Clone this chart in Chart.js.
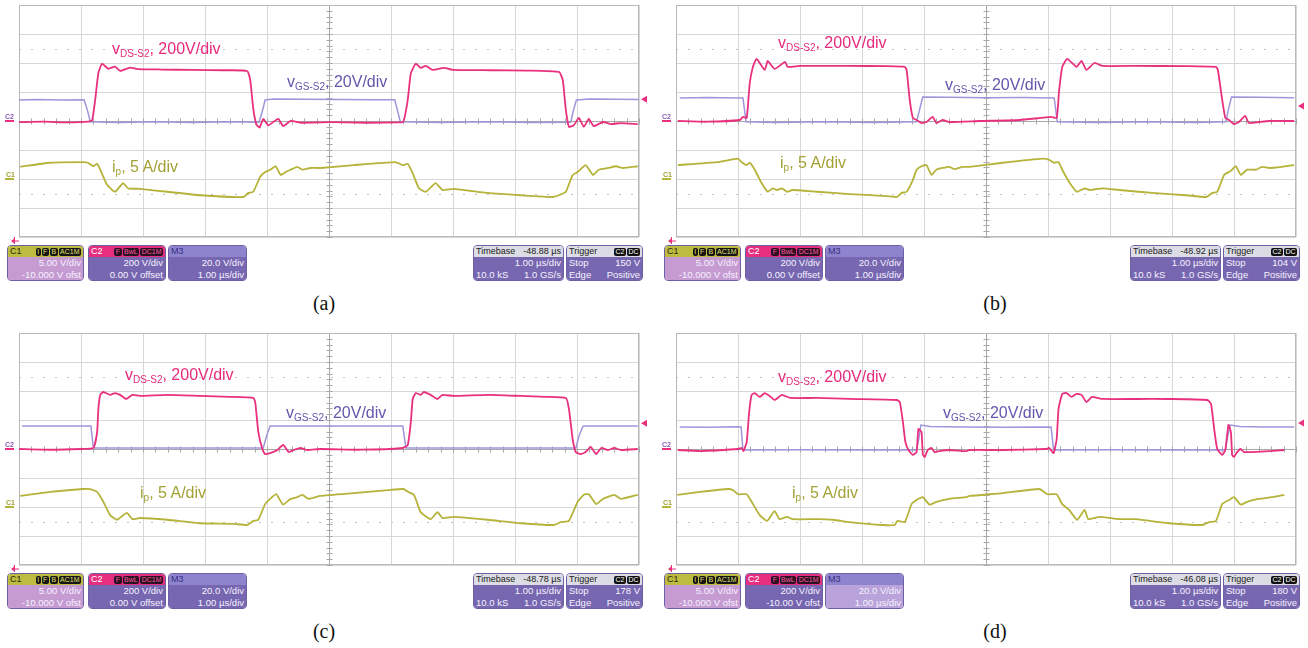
<!DOCTYPE html>
<html lang="en">
<head>
<meta charset="UTF-8">
<title>vDS-S2, vGS-S2 and ip switching waveforms</title>
<script src="https://cdn.jsdelivr.net/npm/chart.js"></script>
<style>
  body { margin: 0; background: #fff; font-family: "Liberation Sans", Arial, sans-serif; }
  #page { position: relative; width: 1308px; height: 648px; overflow: hidden; }
  .panel { position: absolute; width: 657px; height: 328px; }
  .panel canvas { position: absolute; left: 0; top: 0; }
  .lbl { position: absolute; font-size: 16px; line-height: 16px; white-space: nowrap; }
  .lbl .s { font-size: 10px; position: relative; top: 3px; }
  .mk { position: absolute; font-size: 7px; line-height: 7px; font-weight: bold; }
  .box { position: absolute; top: 245px; height: 36px; border-radius: 4px; overflow: hidden;
         font-size: 9.5px; color: #f6f2ff; border: 1px solid #6c61a6; box-sizing: border-box; white-space: nowrap; }
  .hdr { height: 11px; line-height: 11px; padding: 0 2px; display: flex; justify-content: space-between; align-items: center; font-size: 9px; }
  .row { height: 12px; line-height: 12px; padding: 0 2px; display: flex; justify-content: space-between; background: #7667b0; }
  .bd { display: inline-block; border-radius: 2px; padding: 0 1.5px; margin-left: 1px; line-height: 8px; font-size: 7px; vertical-align: middle; }
  .cap { position: absolute; font-family: "Liberation Serif", "Times New Roman", serif; font-size: 20px; line-height: 20px; width: 60px; text-align: center; color: #111; }
</style>
</head>
<body>
<div id="page"></div>
<script>
// time in µs, vDS in V, vGS in V, ip in A
const vdsA = [[0,-8],[0.4,-5],[0.8,-10],[1.12,-5],[1.18,5],[1.23,150],[1.28,330],[1.34,395],[1.44,360],[1.55,375],[1.63,345],[1.79,368],[1.91,358],[2.3,355],[2.8,352],[3.3,350],[3.68,345],[3.73,280],[3.78,80],[3.83,-25],[3.88,-45],[3.94,15],[4.02,-30],[4.18,15],[4.26,-35],[4.38,0],[4.54,-12],[5.0,-8],[5.6,-12],[6.12,-10],[6.2,-5],[6.27,145],[6.32,330],[6.4,395],[6.48,366],[6.56,380],[6.67,352],[6.85,366],[7.01,352],[7.6,350],[8.2,348],[8.71,338],[8.77,283],[8.82,76],[8.87,-40],[8.95,-28],[9.03,21],[9.11,-40],[9.19,14],[9.27,-35],[9.42,-7],[9.55,-21],[9.71,-14],[9.98,-21]];
const vgsA = [[0,14.5],[0.3,14.8],[0.7,14.4],[1.05,14.6],[1.1,8],[1.15,-0.5],[1.6,-1],[2.2,-0.5],[2.8,-1],[3.4,-0.5],[3.87,-0.8],[3.92,6],[3.97,14.5],[4.1,15.2],[4.6,15],[5.2,14.8],[5.7,14.7],[6.06,14.6],[6.1,8],[6.15,-0.5],[6.8,-1],[7.5,-0.5],[8.3,-1],[8.9,-0.8],[8.94,7],[8.99,14.5],[9.2,15.2],[9.6,15],[10,14.8]];
const ipA = [[0.02,2.1],[0.5,2.8],[1.03,2.9],[1.11,2.8],[1.2,2.2],[1.26,2.6],[1.31,1.6],[1.42,-1.0],[1.55,-2.2],[1.68,-0.7],[1.76,-1.6],[1.95,-1.7],[2.39,-2.2],[2.92,-2.8],[3.62,-3.1],[3.7,-2.4],[3.78,-2.2],[3.89,0.4],[3.97,1.2],[4.05,1.6],[4.14,2.2],[4.22,0.7],[4.3,1.2],[4.38,1.6],[4.49,2.1],[4.57,1.6],[4.7,1.9],[4.86,1.9],[5.4,2.4],[6.07,2.9],[6.19,2.4],[6.27,2.6],[6.35,1.0],[6.45,-1.6],[6.56,-2.2],[6.72,-0.7],[6.83,-1.9],[7.01,-1.7],[7.56,-2.4],[8.09,-2.8],[8.61,-3.1],[8.71,-2.8],[8.82,-2.2],[8.93,0.7],[9.01,1.2],[9.14,2.4],[9.26,0.7],[9.35,1.6],[9.5,1.9],[9.63,2.2],[9.74,1.9],[9.98,2.2]];

const vdsB = [[0.03,0],[0.5,-5],[1.03,7],[1.08,28],[1.14,21],[1.19,262],[1.24,373],[1.3,428],[1.43,352],[1.48,414],[1.59,359],[1.76,407],[1.8,373],[2.0,380],[2.8,380],[3.4,378],[3.69,373],[3.72,352],[3.77,145],[3.82,21],[3.88,7],[3.96,-14],[4.04,-7],[4.14,28],[4.2,-14],[4.3,7],[4.41,-7],[4.9,0],[5.54,7],[6.05,28],[6.14,21],[6.18,214],[6.23,373],[6.31,428],[6.46,373],[6.54,414],[6.62,352],[6.75,400],[6.88,380],[7.42,380],[8.2,378],[8.71,373],[8.74,352],[8.81,145],[8.86,21],[8.92,7],[9.0,-21],[9.08,-7],[9.18,35],[9.24,-14],[9.4,-7],[9.57,0],[9.97,0]];
const vgsB = [[0.06,15.9],[0.5,16.2],[1.0,15.9],[1.08,15.9],[1.13,-0.5],[1.6,-1],[2.4,-0.5],[3.2,-1],[3.88,-0.5],[3.93,8],[3.98,16.5],[4.4,16.3],[5.0,16],[5.6,16.2],[6.1,15.9],[6.15,-0.5],[6.8,-1],[7.6,-0.5],[8.4,-1],[8.87,-0.5],[8.91,8],[8.96,16.5],[9.4,16.3],[9.97,16]];
const ipB = [[0.03,2.4],[0.66,2.9],[1.0,3.5],[1.06,2.9],[1.14,2.4],[1.19,2.8],[1.27,1.6],[1.38,-0.7],[1.48,-2.2],[1.56,-1.6],[1.63,-1.9],[1.71,-1.6],[1.79,-2.2],[1.88,-1.9],[2.27,-2.2],[2.8,-2.6],[3.33,-2.9],[3.56,-3.1],[3.64,-2.4],[3.72,-2.2],[3.82,-0.2],[3.88,1.6],[3.96,2.2],[4.04,2.4],[4.12,0.7],[4.2,1.6],[4.3,1.9],[4.41,2.1],[4.49,1.7],[4.62,2.1],[4.73,2.1],[5.27,2.8],[5.91,3.5],[6.02,3.3],[6.1,2.8],[6.17,2.9],[6.23,1.6],[6.34,-0.5],[6.47,-2.2],[6.59,-1.6],[6.67,-1.9],[6.88,-1.6],[7.15,-1.9],[7.68,-2.4],[8.23,-2.8],[8.55,-3.1],[8.65,-2.4],[8.73,-2.2],[8.84,0.7],[8.95,1.4],[9.03,2.2],[9.11,0.7],[9.21,1.6],[9.36,1.6],[9.45,2.1],[9.57,1.9],[9.77,2.1],[9.97,2.4]];

const vdsC = [[0,0],[0.5,-5],[1.0,0],[1.2,7],[1.26,117],[1.28,276],[1.31,373],[1.36,393],[1.47,373],[1.55,386],[1.63,373],[1.73,345],[1.83,373],[1.95,366],[2.39,373],[2.92,366],[3.4,360],[3.78,352],[3.81,324],[3.86,117],[3.93,-7],[3.97,-35],[4.05,-28],[4.17,-7],[4.26,28],[4.35,-21],[4.43,-7],[4.54,7],[4.65,-7],[4.86,0],[5.5,-5],[6.19,7],[6.27,28],[6.32,186],[6.35,345],[6.4,386],[6.48,373],[6.53,393],[6.64,373],[6.75,345],[6.83,373],[7.01,366],[7.56,373],[8.09,366],[8.5,360],[8.82,352],[8.87,276],[8.93,69],[8.98,-21],[9.06,-35],[9.14,-21],[9.22,14],[9.31,-35],[9.39,7],[9.5,-7],[9.6,7],[9.71,-7],[9.98,0]];
const vgsC = [[0.05,15.9],[1.16,15.9],[1.18,8],[1.2,0.7],[2.5,0.7],[3.94,0.7],[4.0,10],[4.05,15.9],[6.19,15.9],[6.24,0.7],[7.5,0.7],[8.98,0.7],[9.04,10],[9.1,15.9],[9.98,15.9]];
const ipC = [[0.02,1.9],[0.5,2.6],[1.03,3.1],[1.15,3.1],[1.26,2.6],[1.36,0.9],[1.47,-1.4],[1.58,-2.2],[1.74,-1.0],[1.83,-2.1],[1.95,-1.9],[2.39,-2.2],[2.92,-2.8],[3.46,-2.9],[3.68,-3.1],[3.78,-2.4],[3.86,-2.2],[3.97,0.5],[4.05,1.4],[4.15,2.2],[4.26,0.4],[4.38,1.4],[4.49,1.7],[4.57,2.1],[4.67,1.4],[4.86,1.9],[5.4,2.4],[5.95,2.9],[6.2,3.1],[6.28,2.6],[6.37,2.1],[6.48,-0.9],[6.64,-2.1],[6.75,-0.9],[6.83,-1.9],[7.01,-1.7],[7.56,-2.2],[8.09,-2.8],[8.63,-3.1],[8.74,-2.6],[8.87,-2.4],[9.01,0.9],[9.11,2.1],[9.19,2.2],[9.31,0.5],[9.42,1.4],[9.6,2.1],[9.71,1.4],[9.98,2.1]];

const vdsD = [[0.03,-7],[0.39,-14],[1.0,0],[1.06,7],[1.09,-14],[1.14,48],[1.18,255],[1.22,373],[1.27,386],[1.35,359],[1.43,386],[1.51,366],[1.59,338],[1.71,373],[1.84,352],[2.27,352],[2.8,345],[3.56,338],[3.61,324],[3.66,186],[3.7,48],[3.75,-7],[3.82,-41],[3.88,-21],[3.91,138],[3.96,117],[3.98,-35],[4.01,-55],[4.06,-7],[4.12,7],[4.17,-21],[4.25,-14],[4.41,-7],[4.69,-14],[4.73,-7],[5.27,-7],[5.97,0],[6.02,7],[6.09,-28],[6.14,69],[6.17,276],[6.23,380],[6.3,386],[6.38,359],[6.46,380],[6.54,373],[6.62,324],[6.71,359],[6.88,345],[7.42,345],[7.95,345],[8.57,338],[8.63,310],[8.68,138],[8.73,0],[8.81,-41],[8.86,-7],[8.91,166],[8.95,117],[8.97,-41],[9.0,-55],[9.05,-21],[9.11,0],[9.16,-21],[9.29,-21],[9.57,-14],[9.81,-7]];
const vgsD = [[0.06,15.2],[0.5,15],[1.0,15.3],[1.05,15.2],[1.08,-0.7],[2,-0.5],[3,-0.7],[3.88,-0.7],[3.92,8],[3.95,16.5],[4.1,15.5],[4.6,15.2],[5.3,15],[6.05,15.2],[6.09,-0.7],[7,-0.5],[8,-0.7],[8.86,-0.7],[8.9,9],[8.94,16.5],[9.1,15.5],[9.5,15.2],[9.97,15.2]];
const ipD = [[0.02,2.1],[0.39,2.6],[0.84,3.1],[0.92,2.9],[1.0,2.2],[1.14,2.2],[1.22,0.9],[1.35,-1.4],[1.47,-2.4],[1.59,-0.7],[1.67,-2.1],[1.79,-1.7],[1.88,-2.1],[2.27,-2.1],[2.53,-2.2],[2.8,-2.6],[3.33,-3.1],[3.53,-3.1],[3.57,-2.4],[3.69,-2.6],[3.8,0.5],[3.88,1.2],[3.98,1.7],[4.09,0.4],[4.2,0.9],[4.41,1.4],[4.69,1.7],[4.73,1.9],[5.27,2.4],[5.86,3.1],[5.99,2.2],[6.14,2.2],[6.23,0.5],[6.34,-0.5],[6.47,-2.2],[6.59,-0.5],[6.65,-2.1],[6.83,-1.7],[7.15,-2.1],[7.42,-2.1],[7.95,-2.8],[8.49,-3.1],[8.6,-2.6],[8.71,-2.4],[8.81,0.5],[8.92,1.2],[9.0,1.7],[9.11,0.4],[9.21,0.9],[9.4,1.4],[9.61,1.7],[9.81,2.1]];

// scope readouts
const captions = ['(a)', '(b)', '(c)', '(d)'];
const timebaseOffsets = ['-48.88 µs', '-48.92 µs', '-48.78 µs', '-46.08 µs'];
const triggerLevels = [150, 104, 178, 180];
const c2Offsets = ['0.00 V offset', '0.00 V offset', '0.00 V offset', '-10.00 V ofst'];

const PINK = '#e8307e', LAV = '#9f95da', OLIVE = '#b5b33a';
const GRID = '#d7d7d7', FRAME = '#b8b8b8';

const panels = [
  { ox: 0,   oy: 0,   vds: vdsA, vgs: vgsA, ip: ipA, capX: 294, lab: { vds: [112, 54], vgs: [287, 87], ip: [112, 172] } },
  { ox: 657, oy: 0,   vds: vdsB, vgs: vgsB, ip: ipB, capX: 308, lab: { vds: [121, 48], vgs: [288, 90], ip: [123, 168] } },
  { ox: 0,   oy: 328, vds: vdsC, vgs: vgsC, ip: ipC, capX: 294, lab: { vds: [125, 52], vgs: [286, 90], ip: [140, 170] } },
  { ox: 657, oy: 328, vds: vdsD, vgs: vgsD, ip: ipD, capX: 308, lab: { vds: [121, 54], vgs: [286, 90], ip: [135, 170] } }
];

const toXY = arr => arr.map(p => ({ x: p[0], y: p[1] }));

// grid extras: dotted lines, centre axes with minor ticks, frame, channel markers
const scopeDecor = {
  id: 'scopeDecor',
  beforeDatasetsDraw(chart) {
    const { ctx, chartArea: a, scales: { x, y } } = chart;
    ctx.save();
    ctx.lineWidth = 1;
    ctx.strokeStyle = '#c2c2c2';
    ctx.setLineDash([2, 10]);
    [2.5, -2.5].forEach(d => {
      const py = Math.round(y.getPixelForValue(d)) + 0.5;
      ctx.beginPath(); ctx.moveTo(a.left, py); ctx.lineTo(a.right, py); ctx.stroke();
    });
    ctx.setLineDash([]);
    const cx = Math.round(x.getPixelForValue(5)) + 0.5;
    const cy = Math.round(y.getPixelForValue(0)) + 0.5;
    ctx.strokeStyle = '#a8a8a8';
    ctx.beginPath();
    ctx.moveTo(cx, a.top); ctx.lineTo(cx, a.bottom);
    ctx.moveTo(a.left, cy); ctx.lineTo(a.right, cy);
    for (let i = -20; i <= 20; i++) {
      const py = Math.round(y.getPixelForValue(i / 5)) + 0.5;
      ctx.moveTo(cx - 3, py); ctx.lineTo(cx + 3, py);
    }
    for (let i = 0; i <= 50; i++) {
      const px = Math.round(x.getPixelForValue(i / 5)) + 0.5;
      ctx.moveTo(px, cy - 3); ctx.lineTo(px, cy + 3);
    }
    ctx.stroke();
    ctx.strokeStyle = FRAME;
    ctx.strokeRect(a.left + 0.5, a.top + 0.5, a.width - 1, a.height - 1);
    ctx.restore();
  },
  afterDraw(chart, args, opts) {
    const { ctx, chartArea: a, scales } = chart;
    ctx.save();
    ctx.lineWidth = 2;
    const g2 = scales.yV.getPixelForValue(0);
    ctx.strokeStyle = PINK;
    ctx.beginPath(); ctx.moveTo(5, g2); ctx.lineTo(14, g2); ctx.stroke();
    const g1 = scales.yI.getPixelForValue(0);
    ctx.strokeStyle = OLIVE;
    ctx.beginPath(); ctx.moveTo(5, g1); ctx.lineTo(14, g1); ctx.stroke();
    // trigger level arrow
    const ty = scales.yV.getPixelForValue(opts.trigger);
    ctx.fillStyle = PINK;
    ctx.beginPath(); ctx.moveTo(a.right + 2, ty); ctx.lineTo(a.right + 8, ty - 3.5); ctx.lineTo(a.right + 8, ty + 3.5); ctx.closePath(); ctx.fill();
    // trigger position (off screen to the left)
    const by = a.bottom + 4;
    ctx.beginPath(); ctx.moveTo(a.left - 8, by); ctx.lineTo(a.left - 4, by - 3); ctx.lineTo(a.left - 4, by + 3); ctx.closePath(); ctx.fill();
    ctx.lineWidth = 1;
    ctx.strokeStyle = PINK;
    ctx.beginPath(); ctx.moveTo(a.left - 4, by); ctx.lineTo(a.left, by); ctx.moveTo(a.left - 4.5, by - 4); ctx.lineTo(a.left - 4.5, by + 4); ctx.stroke();
    ctx.restore();
  }
};

function makeChart(canvas, p, trig) {
  return new Chart(canvas, {
    type: 'line',
    data: {
      datasets: [
        { label: 'vDS-S2', data: toXY(p.vds), yAxisID: 'yV', borderColor: PINK, borderWidth: 1.8, tension: 0.15, pointRadius: 0, order: 1 },
        { label: 'vGS-S2', data: toXY(p.vgs), yAxisID: 'yG', borderColor: LAV, borderWidth: 1.5, tension: 0, pointRadius: 0, order: 2 },
        { label: 'ip', data: toXY(p.ip), yAxisID: 'yI', borderColor: OLIVE, borderWidth: 1.8, tension: 0.15, pointRadius: 0, order: 3 }
      ]
    },
    options: {
      responsive: false,
      animation: false,
      events: [],
      layout: { padding: { left: 19, top: 5, right: 11, bottom: 7 } },
      plugins: { legend: { display: false }, tooltip: { enabled: false }, scopeDecor: { trigger: trig } },
      scales: {
        x: { type: 'linear', min: 0, max: 10, ticks: { display: false, stepSize: 1 }, grid: { color: GRID, drawTicks: false }, border: { display: false } },
        y: { type: 'linear', min: -4, max: 4, ticks: { display: false, stepSize: 1 }, grid: { color: GRID, drawTicks: false }, border: { display: false } },
        yV: { type: 'linear', display: false, min: -800, max: 800 },
        yG: { type: 'linear', display: false, min: -80, max: 80 },
        yI: { type: 'linear', display: false, min: -10, max: 30 }
      }
    },
    plugins: [scopeDecor]
  });
}

function el(parent, cls, html, style) {
  const d = document.createElement('div');
  d.className = cls;
  d.innerHTML = html;
  Object.assign(d.style, style || {});
  parent.appendChild(d);
  return d;
}

const badge = (t, bg, fg) => `<span class="bd" style="background:${bg};color:${fg}">${t}</span>`;

function infoBox(parent, left, width, hdrBg, hdrFg, hdrLeft, hdrRight, rowBg, rows) {
  const b = el(parent, 'box', '', { left: left + 'px', width: width + 'px' });
  el(b, 'hdr', `<span>${hdrLeft}</span><span>${hdrRight}</span>`, { background: hdrBg, color: hdrFg });
  rows.forEach(r => el(b, 'row', `<span>${r[0]}</span><span>${r[1]}</span>`, { background: rowBg }));
}

function label(parent, pos, color, main, sub, rest) {
  el(parent, 'lbl', `${main}<span class="s">${sub}</span>, ${rest}`, { left: pos[0] + 'px', top: (pos[1] - 13.5) + 'px', color: color });
}

const page = document.getElementById('page');
panels.forEach((p, i) => {
  const pn = el(page, 'panel', '', { left: p.ox + 'px', top: p.oy + 'px' });
  const cv = document.createElement('canvas');
  cv.width = 650; cv.height = 244;
  pn.appendChild(cv);
  makeChart(cv, p, triggerLevels[i]);

  label(pn, p.lab.vds, '#e62a7c', 'v', 'DS-S2', '200V/div');
  label(pn, p.lab.vgs, '#6555ad', 'v', 'GS-S2', '20V/div');
  label(pn, p.lab.ip, '#a4a236', 'i', 'p', '5 A/div');

  el(pn, 'mk', 'C2', { left: '5px', top: '113px', color: '#8a5fb8' });
  el(pn, 'mk', 'C1', { left: '6px', top: '171px', color: '#a4a236' });

  const m3Body = i === 3 ? '#b9a3da' : '#7667b0';
  const yb = t => badge(t, '#151515', '#e4e070');
  const pb = t => badge(t, '#2a1020', '#ff5aa0');
  infoBox(pn, 7, 77, '#bdbc40', '#2a2a10', 'C1', yb('I') + yb('F') + yb('B') + yb('AC1M'),
    '#c59bd2', [['', '5.00 V/div'], ['', '-10.000 V ofst']]);
  infoBox(pn, 88, 78, '#e6307f', '#fff', 'C2', pb('F') + pb('BwL') + pb('DC1M'),
    '#7667b0', [['', '200 V/div'], ['', c2Offsets[i]]]);
  infoBox(pn, 168, 79, '#8d84cd', '#3a2f85', 'M3', '', m3Body, [['', '20.0 V/div'], ['', '1.00 µs/div']]);
  infoBox(pn, 473, 91, '#dcdce4', '#222', 'Timebase', timebaseOffsets[i], '#7667b0', [['', '1.00 µs/div'], ['10.0 kS', '1.0 GS/s']]);
  infoBox(pn, 566, 77, '#dcdce4', '#222', 'Trigger', badge('C2', '#111', '#fff') + badge('DC', '#111', '#fff'), '#7667b0', [['Stop', triggerLevels[i] + ' V'], ['Edge', 'Positive']]);

  el(pn, 'cap', captions[i], { left: p.capX + 'px', top: '293px' });
});
</script>
</body>
</html>
